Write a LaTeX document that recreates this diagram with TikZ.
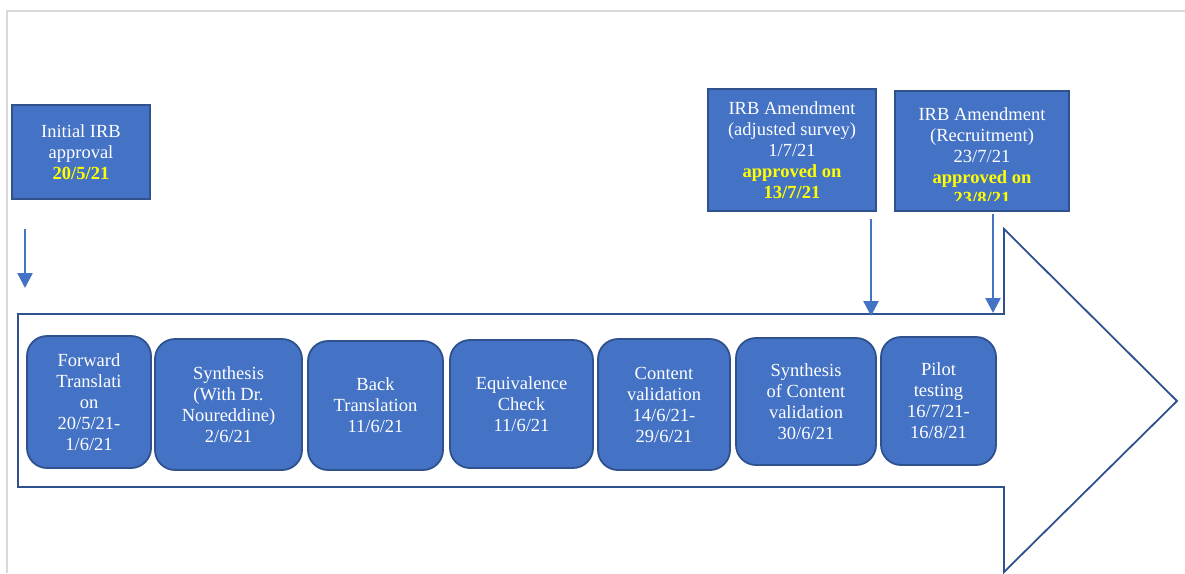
\documentclass[tikz,border=0pt]{standalone}
\usepackage{fontspec}
\setmainfont{Liberation Serif}
\usetikzlibrary{arrows.meta}
\definecolor{boxfill}{HTML}{4472C4}
\definecolor{boxline}{HTML}{2F528F}
\definecolor{hiyel}{HTML}{FFFF00}
\definecolor{framegray}{HTML}{D9D9D9}
\begin{document}
\begin{tikzpicture}[x=1pt,y=-1pt,
  txt/.style={font=\fontsize{18.5}{21}\selectfont, text=white, align=center},
  stepbox/.style={txt, draw=boxline, fill=boxfill, line width=1.8pt, rounded corners=20pt, inner sep=0pt},
  irbbox/.style={txt, draw=boxline, fill=boxfill, line width=1.8pt, inner sep=0pt},
  darr/.style={draw=boxfill, line width=2.5pt, -{Triangle[width=15pt,length=15pt]}}]
\useasboundingbox (0,0) rectangle (1185,573);
% frame
\draw[framegray, line width=1.5pt] (7,573) -- (7,11) -- (1185,11);
% big arrow
\draw[boxline, line width=1.8pt, line join=miter]
  (18,314) -- (1004,314) -- (1004,229) -- (1177,401) -- (1004,572) -- (1004,487) -- (18,487) -- cycle;
% step boxes
\node[stepbox, minimum width=124pt, minimum height=132pt] (s1) at (89,402) {Forward\\Translati\\on\\20/5/21-\\1/6/21};
\node[stepbox, minimum width=147pt, minimum height=131pt] (s2) at (228.5,404.5) {Synthesis\\(With Dr.\\Noureddine)\\2/6/21};
\node[stepbox, minimum width=135pt, minimum height=129pt] (s3) at (375.5,405.5) {Back\\Translation\\11/6/21};
\node[stepbox, minimum width=143pt, minimum height=128pt] (s4) at (521.5,404) {Equivalence\\Check\\11/6/21};
\node[stepbox, minimum width=132pt, minimum height=131pt] (s5) at (664,404.5) {Content\\validation\\14/6/21-\\29/6/21};
\node[stepbox, minimum width=140pt, minimum height=127pt] (s6) at (806,401.5) {Synthesis\\of Content\\validation\\30/6/21};
\node[stepbox, minimum width=115pt, minimum height=128pt] (s7) at (938.5,401) {Pilot\\testing\\16/7/21-\\16/8/21};
% IRB boxes
\node[irbbox, minimum width=138pt, minimum height=94pt] (init) at (81,152) {Initial IRB\\approval\\\textcolor{hiyel}{\textbf{20/5/21}}};
\node[irbbox, minimum width=168pt, minimum height=122pt] (am1) at (792,150) {IRB Amendment\\(adjusted survey)\\1/7/21\\\textcolor{hiyel}{\textbf{approved on}}\\\textcolor{hiyel}{\textbf{13/7/21}}};
\node[irbbox, minimum width=174pt, minimum height=120pt] (am2) at (982,151) {};
\begin{scope}
\clip (896,92) rectangle (1068,200);
\node[txt] (am2t) at (982,156) {IRB Amendment\\(Recruitment)\\23/7/21\\\textcolor{hiyel}{\textbf{approved on}}\\\textcolor{hiyel}{\textbf{23/8/21}}};
\end{scope}
% arrows
\coordinate (a0) at (25,288);
\coordinate (a1) at (871,316);
\coordinate (a2) at (993,313);
\draw[darr, shorten <=29pt] (init.south -| a0) -- (a0);
\draw[darr, shorten <=7pt] (am1.south -| a1) -- (a1);
\draw[darr, shorten <=2pt] (am2.south -| a2) -- (a2);
\end{tikzpicture}
\end{document}
